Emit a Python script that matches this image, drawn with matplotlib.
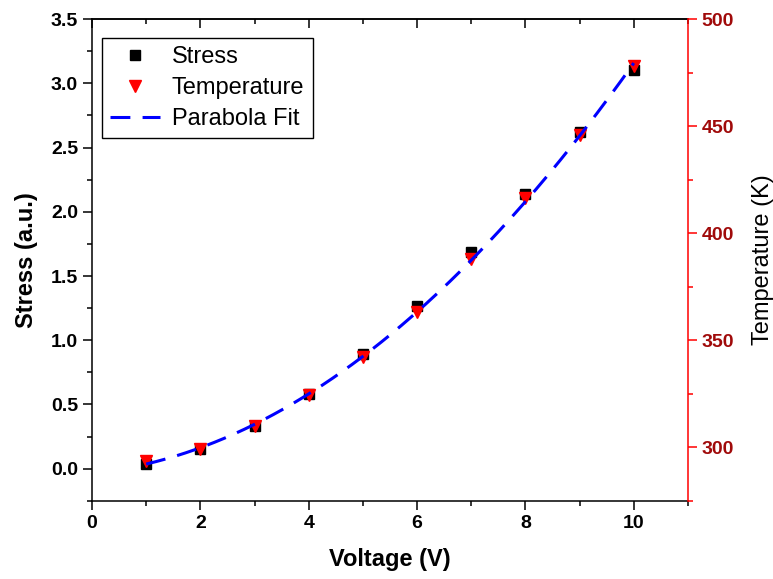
import numpy as np
import matplotlib
matplotlib.use("Agg")
import matplotlib.pyplot as plt
from matplotlib.ticker import MultipleLocator, FormatStrFormatter

plt.rcParams["font.family"] = ["Liberation Sans", "DejaVu Sans"]

# --- data ---
voltage = [1, 2, 3, 4, 5, 6, 7, 8, 9, 10]
stress = [0.04, 0.15, 0.33, 0.58, 0.89, 1.27, 1.69, 2.14, 2.62, 3.10]
temperature = [293.5, 299.0, 310.0, 324.5, 342.0, 363.0, 388.0, 416.5, 446.0, 478.0]

# parabola fit of temperature vs voltage
coef = np.polyfit(voltage, temperature, 2)
v_fit = np.linspace(voltage[0], voltage[-1], 200)
t_fit = np.polyval(coef, v_fit)

DARKRED = "#a00a0a"
TICK_FS = 14

fig = plt.figure(figsize=(7.73, 5.79), dpi=100)
ax = fig.add_axes([0.119, 0.135, 0.771, 0.832])
ax2 = ax.twinx()

h1, = ax.plot(voltage, stress, "s", color="black", markersize=7, label="Stress")
h2, = ax2.plot(voltage, temperature, "v", color="red", markersize=9,
               label="Temperature")
h3, = ax2.plot(v_fit, t_fit, color="#0000ff", linewidth=2.2,
               dashes=(6.5, 4.0), label="Parabola Fit")

ax.set_xlim(0, 11)
ax.set_ylim(-0.25, 3.5)
ax2.set_ylim(275, 500)

ax.xaxis.set_major_locator(MultipleLocator(2))
ax.xaxis.set_minor_locator(MultipleLocator(1))
ax.yaxis.set_major_locator(MultipleLocator(0.5))
ax.yaxis.set_minor_locator(MultipleLocator(0.25))
ax.yaxis.set_major_formatter(FormatStrFormatter("%.1f"))
ax2.yaxis.set_major_locator(MultipleLocator(50))
ax2.yaxis.set_minor_locator(MultipleLocator(25))

for s in ["left", "bottom", "top"]:
    ax.spines[s].set_linewidth(1.1)
ax.spines["right"].set_visible(False)
for s in ["left", "bottom", "top"]:
    ax2.spines[s].set_visible(False)
ax2.spines["right"].set_color("red")
ax2.spines["right"].set_linewidth(1.1)

ax.tick_params(axis="both", which="major", direction="out", length=6.5,
               width=1.1, labelsize=TICK_FS)
ax.tick_params(axis="both", which="minor", direction="out", length=3.6,
               width=1.1)
ax2.tick_params(axis="y", which="major", direction="out", length=6.5,
                width=1.1, colors="red", labelcolor=DARKRED, labelsize=TICK_FS)
ax2.tick_params(axis="y", which="minor", direction="out", length=3.6,
                width=1.1, colors="red")
for lab in ax.get_xticklabels() + ax.get_yticklabels() + ax2.get_yticklabels():
    lab.set_fontweight("bold")

# inward ticks along the top edge
top = ax.secondary_xaxis("top")
top.xaxis.set_major_locator(MultipleLocator(2))
top.xaxis.set_minor_locator(MultipleLocator(1))
top.tick_params(which="major", direction="in", length=6.5, width=1.1,
                labeltop=False)
top.tick_params(which="minor", direction="in", length=3.6, width=1.1)
top.spines["top"].set_linewidth(1.1)

ax.set_xlabel("Voltage (V)", fontsize=17, fontweight="bold", labelpad=12)
ax.set_ylabel("Stress (a.u.)", fontsize=17, fontweight="bold", labelpad=9)
ax2.set_ylabel("Temperature (K)", fontsize=17, labelpad=13)

leg = ax2.legend(handles=[h1, h2, h3], loc="upper left",
                 bbox_to_anchor=(0.017, 0.961), fontsize=17, fancybox=False,
                 framealpha=1, edgecolor="black", handlelength=2.1,
                 borderpad=0.35, labelspacing=0.38, handletextpad=0.5,
                 borderaxespad=0.0)
leg.get_frame().set_linewidth(1.0)

fig.savefig("out.png", dpi=100)
